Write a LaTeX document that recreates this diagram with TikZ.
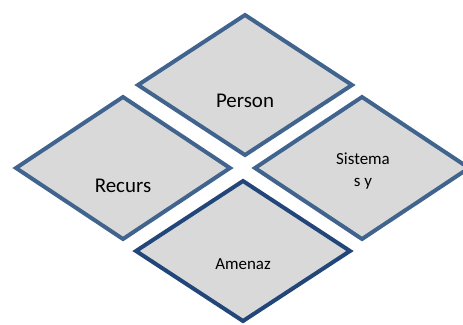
\documentclass[tikz,border=0pt]{standalone}
\usepackage{fontspec}
\setmainfont{Carlito}
\definecolor{edgeblue}{HTML}{41648F}
\definecolor{edgedark}{HTML}{22467A}
\definecolor{boxfill}{HTML}{D9D9D9}
\begin{document}
\begin{tikzpicture}[x=1bp,y=-1bp,
  dia/.style={draw=edgeblue,fill=boxfill,line width=4bp,line join=miter},
  diadark/.style={dia,draw=edgedark},
  lbl/.style={inner sep=0pt,anchor=base,text=black}]
\useasboundingbox (0,0) rectangle (463,324);
\clip (0,0) rectangle (463,324);
% Person
\draw[dia] (245,15) -- (352,85) -- (245,155) -- (138,85) -- cycle;
% Recurs
\draw[dia] (123,97) -- (230,168) -- (123,239) -- (16,168) -- cycle;
% Sistemas
\draw[dia] (362,97) -- (469,168) -- (362,239) -- (255,168) -- cycle;
% Amenaz
\draw[diadark] (243,181) -- (350,251) -- (243,321) -- (136,251) -- cycle;
\node[lbl,font=\fontsize{21}{24}\selectfont] (person) at (245,107) {Person};
\node[lbl,font=\fontsize{21}{24}\selectfont] (recurs) at (123,192) {Recurs};
\node[lbl,font=\fontsize{17}{20}\selectfont] (sist1) at (363,164) {Sistema};
\node[lbl,font=\fontsize{17}{20}\selectfont] (sist2) at (363,186) {s y};
\node[lbl,font=\fontsize{17}{20}\selectfont] (amenaz) at (243,269) {Amenaz};
\end{tikzpicture}
\end{document}
